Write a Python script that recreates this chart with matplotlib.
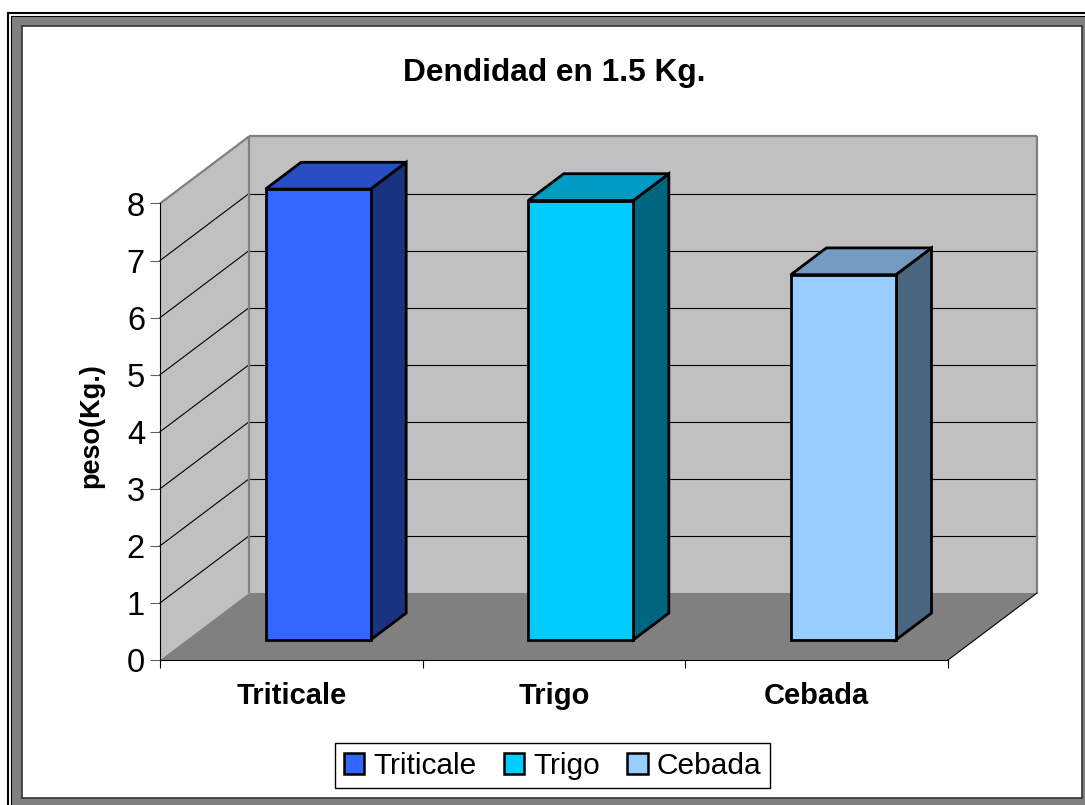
import matplotlib
matplotlib.use("Agg")
import matplotlib.pyplot as plt
from matplotlib.patches import Rectangle, Patch, Polygon
import numpy as np

plt.rcParams['font.family'] = ['Liberation Sans', 'DejaVu Sans']

# ---- data ----
categories = ["Triticale", "Trigo", "Cebada"]
values = [7.9, 7.7, 6.4]
y_ticks = [0, 1, 2, 3, 4, 5, 6, 7, 8]
title = "Dendidad en 1.5 Kg."
ylabel = "peso(Kg.)"

front_colors = ["#3366FF", "#00CCFF", "#99CCFF"]

W, H = 1085, 805
fig = plt.figure(figsize=(W / 100, H / 100), dpi=100)
fig.patch.set_facecolor("white")

def fx(px):
    return px / W

def fy(py):
    return 1 - py / H

# ---- page frame ----
fig.add_artist(Rectangle((fx(8.3), fy(1200)), fx(1300), fy(13) - fy(1200),
                         transform=fig.transFigure, facecolor="white",
                         edgecolor="black", linewidth=1.5, zorder=-10))
fig.add_artist(Rectangle((fx(11), fy(1200)), fx(1300), fy(15.5) - fy(1200),
                         transform=fig.transFigure, facecolor="#808080",
                         edgecolor="black", linewidth=0.8, zorder=-9))
fig.add_artist(Rectangle((fx(22), fy(797.5)), fx(1081.5) - fx(22), fy(26) - fy(797.5),
                         transform=fig.transFigure, facecolor="white",
                         edgecolor="#333333", linewidth=1.2, zorder=-8))

# ---- plot axes: front frame of the 3D box ----
x0p, x1p, y0p, y8p = 160, 948, 660, 203.5
ax = fig.add_axes([fx(x0p), fy(y0p), fx(x1p) - fx(x0p), fy(y8p) - fy(y0p)])
ax.set_zorder(5)
ax.set_xlim(0, len(categories))
ax.set_ylim(0, max(y_ticks))
ax.patch.set_alpha(0)

px_per_cat = (x1p - x0p) / len(categories)
px_per_val = (y0p - y8p) / max(y_ticks)
DX = 89 / px_per_cat          # depth offset in category units
DY = 67 / px_per_val          # depth offset in value units
ymax = max(y_ticks)
ncat = len(categories)

# walls
ax.add_patch(Polygon([(DX, DY), (ncat + DX, DY), (ncat + DX, ymax + DY), (DX, ymax + DY)],
                     closed=True, facecolor="#C0C0C0", edgecolor="none", clip_on=False, zorder=1))
ax.add_patch(Polygon([(0, 0), (DX, DY), (DX, ymax + DY), (0, ymax)],
                     closed=True, facecolor="#C0C0C0", edgecolor="none", clip_on=False, zorder=1))
# floor
ax.add_patch(Polygon([(0, 0), (ncat, 0), (ncat + DX, DY), (DX, DY)],
                     closed=True, facecolor="#808080", edgecolor="none", clip_on=False, zorder=1.5))

# gridlines
for v in y_ticks[1:-1]:
    ax.plot([DX, ncat + DX], [v + DY, v + DY], color="black", lw=0.8, clip_on=False, zorder=2)
    ax.plot([0, DX], [v, v + DY], color="black", lw=0.8, clip_on=False, zorder=2)

# wall edges
edge_kw = dict(color="#808080", lw=1.6, clip_on=False, zorder=2.5, solid_capstyle="butt")
ax.plot([0, DX], [ymax, ymax + DY], **edge_kw)
ax.plot([DX, DX], [DY, ymax + DY], **edge_kw)
ax.plot([DX, ncat + DX], [ymax + DY, ymax + DY], **edge_kw)
ax.plot([ncat + DX, ncat + DX], [DY, ymax + DY], **edge_kw)
ax.plot([ncat, ncat + DX], [0, DY], color="black", lw=0.8, clip_on=False, zorder=2.5)

# bars
bw = 0.4
f0, f1 = 0.3, 0.7
def shade(hexc, k):
    c = np.array(matplotlib.colors.to_rgb(hexc)) * k
    return tuple(c)

for i, (v, c) in enumerate(zip(values, front_colors)):
    xc = i + 0.5
    xl, xr = xc - bw / 2, xc + bw / 2
    ox0, oy0 = f0 * DX, f0 * DY
    ox1, oy1 = f1 * DX, f1 * DY
    kw = dict(closed=True, edgecolor="black", linewidth=2.0, joinstyle="miter",
              clip_on=False, zorder=4)
    # side face
    ax.add_patch(Polygon([(xr + ox0, oy0), (xr + ox1, oy1), (xr + ox1, v + oy1), (xr + ox0, v + oy0)],
                         facecolor=shade(c, 0.5), **kw))
    # top face
    ax.add_patch(Polygon([(xl + ox0, v + oy0), (xr + ox0, v + oy0), (xr + ox1, v + oy1), (xl + ox1, v + oy1)],
                         facecolor=shade(c, 0.76), **kw))
    # front face
    ax.add_patch(Polygon([(xl + ox0, oy0), (xr + ox0, oy0), (xr + ox0, v + oy0), (xl + ox0, v + oy0)],
                         facecolor=c, **kw))

# axes spines / ticks
for s in ["top", "right"]:
    ax.spines[s].set_visible(False)
ax.spines["left"].set_color("black")
ax.spines["left"].set_linewidth(0.8)
ax.spines["bottom"].set_color("black")
ax.spines["bottom"].set_linewidth(0.8)
ax.spines["left"].set_zorder(3)
ax.spines["bottom"].set_zorder(3)

ax.set_yticks(y_ticks)
ax.set_yticklabels([str(t) for t in y_ticks])
ax.tick_params(axis="y", direction="out", length=7.2, width=0.8, color="#606060",
               pad=3.6, labelsize=23.5)
ax.set_xticks(np.arange(ncat + 1))
ax.set_xticklabels([])
ax.set_xticks(np.arange(ncat) + 0.5, minor=True)
ax.set_xticklabels(categories, minor=True, fontsize=21, fontweight="bold")
ax.tick_params(axis="x", which="major", direction="out", length=5.8, width=0.8, color="black")
ax.tick_params(axis="x", which="minor", length=0, pad=16)

# title and y-label
fig.text(fx(554), fy(81), title, ha="center", va="baseline", fontsize=22.8, fontweight="bold")
fig.text(fx(91.5), fy(425.5), ylabel, ha="center", va="center", rotation=90,
         fontsize=19.5, fontweight="bold")

# legend
handles = [Patch(facecolor=c, edgecolor="black", linewidth=1.8) for c in front_colors]
leg = fig.legend(handles, categories, loc="center", bbox_to_anchor=(fx(552.5), fy(765.5)),
                 ncol=3, fontsize=21.5, frameon=True, fancybox=False, edgecolor="black",
                 framealpha=1, handlelength=0.7, handleheight=0.7, handletextpad=0.3,
                 columnspacing=0.9, borderpad=0.3, borderaxespad=0)
leg.get_frame().set_linewidth(1.0)

fig.savefig("out.png", dpi=100)
